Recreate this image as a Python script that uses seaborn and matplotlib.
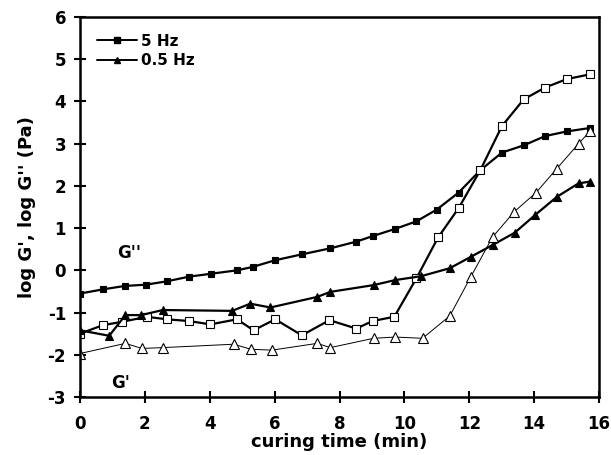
import matplotlib
matplotlib.use("Agg")
import matplotlib.pyplot as plt
import pandas as pd
import seaborn as sns

# ---------------------------------------------------------------------------
# Data
# ---------------------------------------------------------------------------

# G'' at 5 Hz (filled squares)
t_g2_5hz = [0, 0.71, 1.38, 2.03, 2.68, 3.36, 4.05, 4.84, 5.32, 6.02, 6.85, 7.71,
            8.52, 9.02, 9.71, 10.37, 11.0, 11.67, 12.34, 13.01, 13.68, 14.34,
            15.01, 15.71]
g2_5hz = [-0.55, -0.45, -0.37, -0.34, -0.26, -0.15, -0.08, 0.0, 0.08, 0.24, 0.38,
          0.52, 0.68, 0.81, 0.98, 1.16, 1.44, 1.84, 2.37, 2.79, 2.96, 3.18, 3.29,
          3.37]

# G' at 5 Hz (open squares)
t_g1_5hz = [0, 0.70, 1.29, 2.06, 2.68, 3.35, 4.02, 4.84, 5.35, 6.02, 6.84, 7.69,
            8.52, 9.02, 9.69, 10.37, 11.04, 11.67, 12.34, 13.01, 13.68, 14.34,
            15.01, 15.71]
g1_5hz = [-1.50, -1.30, -1.22, -1.10, -1.16, -1.20, -1.28, -1.16, -1.42, -1.16,
          -1.54, -1.18, -1.38, -1.20, -1.10, -0.19, 0.78, 1.47, 2.37, 3.42, 4.05,
          4.33, 4.53, 4.64]

# G'' at 0.5 Hz (filled triangles)
t_g2_05hz = [0, 0.9, 1.40, 1.89, 2.55, 4.69, 5.25, 5.87, 7.31, 7.72, 9.05, 9.72,
             10.51, 11.40, 12.05, 12.72, 13.40, 14.03, 14.70, 15.37, 15.71]
g2_05hz = [-1.42, -1.55, -1.06, -1.06, -0.94, -0.96, -0.79, -0.88, -0.63, -0.51,
           -0.35, -0.23, -0.14, 0.05, 0.32, 0.60, 0.89, 1.31, 1.74, 2.06, 2.10]

# G' at 0.5 Hz (open triangles)
t_g1_05hz = [0, 1.40, 1.91, 2.56, 4.74, 5.27, 5.92, 7.31, 7.72, 9.05, 9.72, 10.56,
             11.40, 12.05, 12.72, 13.39, 14.06, 14.70, 15.37, 15.73]
g1_05hz = [-1.97, -1.73, -1.85, -1.83, -1.75, -1.87, -1.89, -1.73, -1.83, -1.61,
           -1.58, -1.61, -1.08, -0.15, 0.79, 1.39, 1.84, 2.41, 3.00, 3.30]

X_TICKS = [0, 2, 4, 6, 8, 10, 12, 14, 16]
Y_TICKS = [-3, -2, -1, 0, 1, 2, 3, 4, 5, 6]

# ---------------------------------------------------------------------------
# Style
# ---------------------------------------------------------------------------

sns.set_theme(style="ticks")
plt.rcParams["font.family"] = ["DejaVu Sans"]
plt.rcParams.update({
    "font.weight": "bold",
    "text.color": "black",
    "axes.labelcolor": "black",
    "axes.unicode_minus": False,
})

fig, ax = plt.subplots(figsize=(6.11, 4.55), dpi=100)
fig.subplots_adjust(left=80 / 611, right=599 / 611, top=1 - 17 / 455, bottom=1 - 397 / 455)

series = [
    (t_g2_5hz, g2_5hz, "s", "black", 1.6, 5),
    (t_g1_5hz, g1_5hz, "s", "white", 1.6, 5.5),
    (t_g2_05hz, g2_05hz, "^", "black", 1.6, 6),
    (t_g1_05hz, g1_05hz, "^", "white", 0.7, 7),
]
for t, v, mk, face, lw, ms in series:
    df = pd.DataFrame({"t": t, "v": v})
    sns.lineplot(data=df, x="t", y="v", ax=ax, color="black", linewidth=lw,
                 marker=mk, markersize=ms, markerfacecolor=face,
                 markeredgecolor="black", markeredgewidth=0.8, estimator=None)

# legend (drawn as proxy lines)
h1, = ax.plot([], [], color="black", lw=1.4, marker="s", markersize=4.5, label="5 Hz")
h2, = ax.plot([], [], color="black", lw=1.4, marker="^", markersize=5, label="0.5 Hz")
ax.legend(handles=[h1, h2], loc="upper left", frameon=False, handlelength=2.6,
          handletextpad=0.3, borderaxespad=0.7, labelspacing=0.3,
          prop={"size": 11, "weight": "bold"})

ax.text(1.5, 0.4, "G''", fontsize=12, fontweight="bold", ha="center", va="center")
ax.text(1.24, -2.68, "G'", fontsize=12, fontweight="bold", ha="center", va="center")

ax.set_xlim(0, 16)
ax.set_ylim(-3, 6)
ax.set_xticks(X_TICKS)
ax.set_yticks(Y_TICKS)
ax.tick_params(axis="both", direction="inout", length=8, width=1.5, labelsize=12,
               colors="black")
ax.tick_params(axis="x", pad=9)
ax.tick_params(axis="y", pad=6)
for lab in ax.get_xticklabels() + ax.get_yticklabels():
    lab.set_fontweight("bold")
ax.set_xlabel("curing time (min)", fontsize=13, fontweight="bold", labelpad=0)
ax.set_ylabel("log G', log G'' (Pa)", fontsize=13, fontweight="bold", labelpad=8)
for sp in ax.spines.values():
    sp.set_visible(True)
    sp.set_linewidth(1.8)
    sp.set_color("black")

fig.savefig("out.png", dpi=100)
